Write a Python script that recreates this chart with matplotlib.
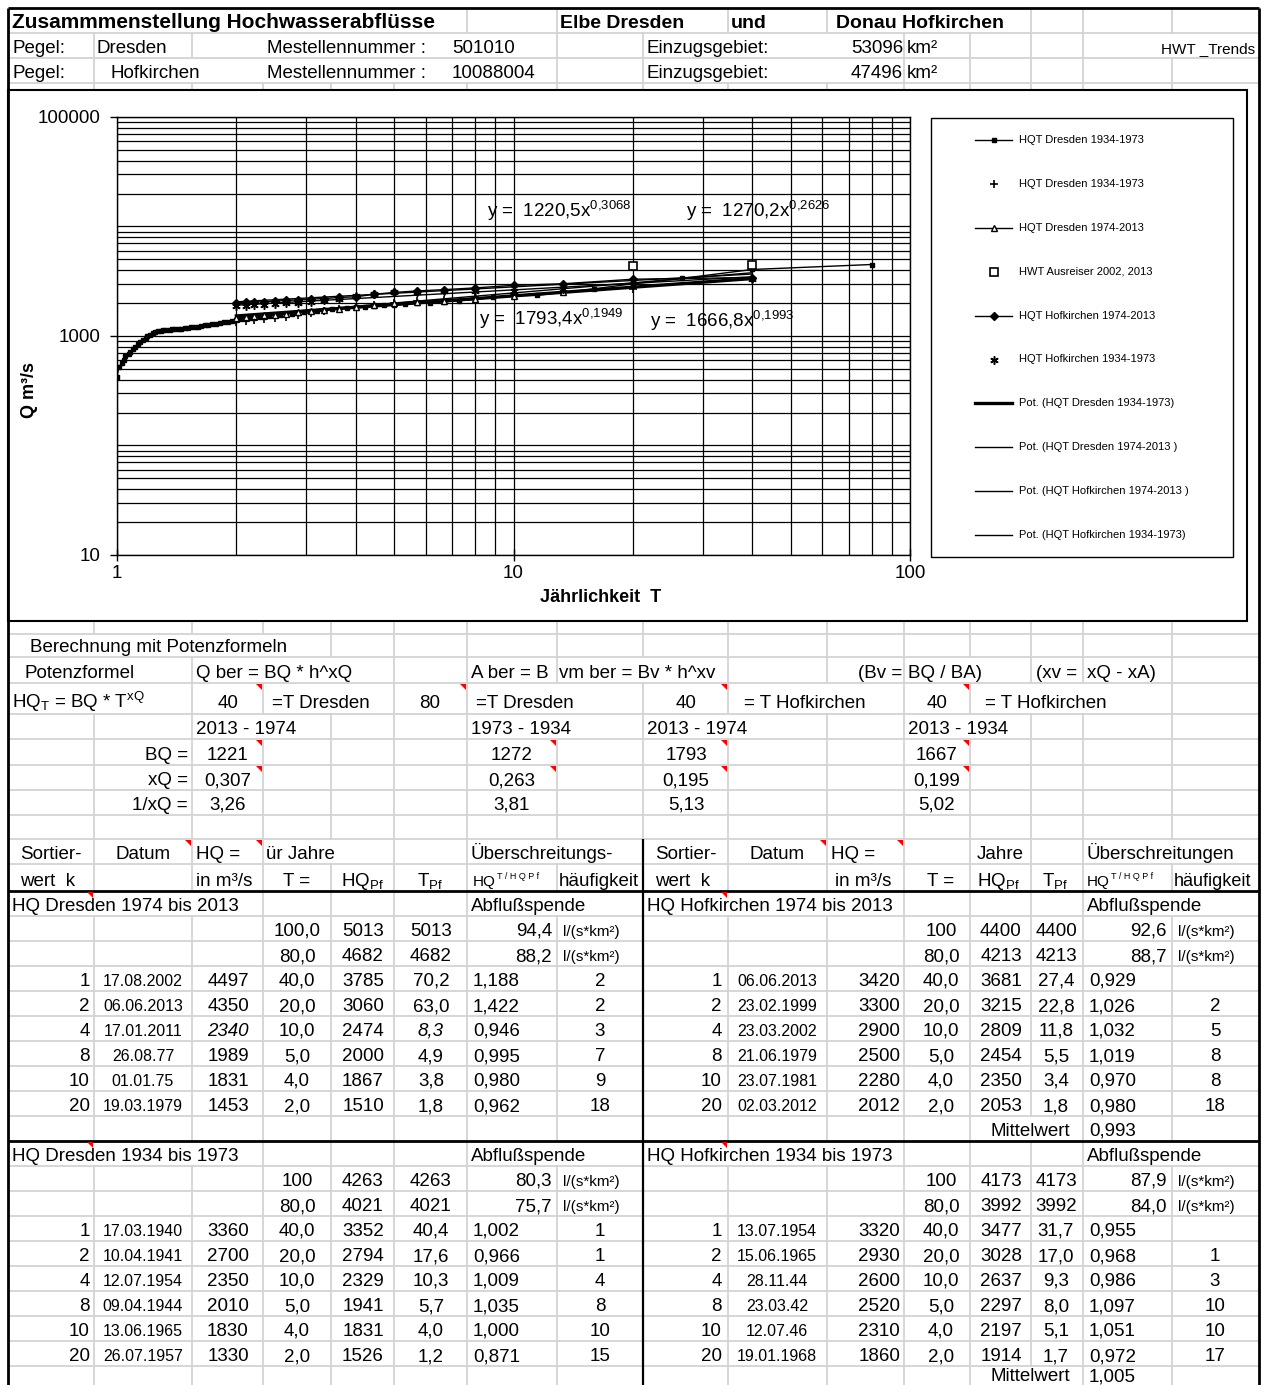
import numpy as np
import matplotlib
matplotlib.use('Agg')
import matplotlib.pyplot as plt
from matplotlib.patches import Rectangle, Polygon
from matplotlib.ticker import LogLocator, NullFormatter

plt.rcParams['font.family'] = ['Liberation Sans', 'DejaVu Sans']
plt.rcParams['mathtext.default'] = 'regular'

# ---------------- chart data ----------------
# HQT Dresden (dots, long series, T = 80/k)
dres80_T = [80, 40, 26.67, 20, 16, 13.33, 11.43, 10, 8.89, 8,
            7.27, 6.67, 6.15, 5.71, 5.33, 5, 4.71, 4.44, 4.21, 4,
            3.81, 3.64, 3.48, 3.33, 3.2, 3.08, 2.96, 2.86, 2.76, 2.67,
            2.58, 2.5, 2.42, 2.35, 2.29, 2.22, 2.16, 2.11, 2.05, 2.0,
            1.95, 1.9, 1.86, 1.82, 1.78, 1.74, 1.7, 1.67, 1.63, 1.6,
            1.57, 1.54, 1.51, 1.48, 1.45, 1.43, 1.4, 1.38, 1.36, 1.33,
            1.31, 1.29, 1.27, 1.25, 1.23, 1.21, 1.19, 1.18, 1.16, 1.14,
            1.13, 1.11, 1.1, 1.08, 1.07, 1.05, 1.04, 1.03, 1.01, 1.0]
dres80_Q = [4497, 4050, 3360, 3000, 2700, 2500, 2350, 2340, 2250, 2150,
            2100, 2050, 2010, 1989, 1950, 1920, 1900, 1880, 1850, 1831,
            1800, 1780, 1750, 1720, 1700, 1680, 1650, 1620, 1600, 1580,
            1560, 1540, 1520, 1500, 1480, 1460, 1453, 1440, 1420, 1400,
            1370, 1350, 1330, 1320, 1300, 1280, 1260, 1250, 1230, 1220,
            1210, 1200, 1190, 1180, 1170, 1160, 1150, 1150, 1140, 1140,
            1130, 1120, 1110, 1090, 1060, 1030, 1000, 960, 920, 880,
            840, 800, 760, 720, 690, 650, 610, 570, 520, 420]

# 40-year series, T = 40/k
T40 = [40, 20, 13.33, 10, 8, 6.67, 5.71, 5, 4.44, 4,
       3.64, 3.33, 3.08, 2.86, 2.67, 2.5, 2.35, 2.22, 2.11, 2.0]
dres34_Q = [3360, 2700, 2500, 2350, 2250, 2150, 2080, 2010, 1900, 1830,
            1750, 1680, 1620, 1560, 1500, 1450, 1420, 1390, 1360, 1330]
dres74_T = [13.33, 10, 8, 6.67, 5.71, 5, 4.44, 4,
            3.64, 3.33, 3.08, 2.86, 2.67, 2.5, 2.35, 2.22, 2.11, 2.0]
dres74_Q = [2500, 2340, 2200, 2100, 2050, 1989, 1900, 1831,
            1780, 1720, 1680, 1640, 1600, 1570, 1540, 1510, 1480, 1453]
outlier_T = [40, 20]
outlier_Q = [4497, 4350]
hof74_Q = [3420, 3300, 3000, 2900, 2750, 2650, 2580, 2500, 2400, 2280,
           2250, 2200, 2170, 2140, 2110, 2080, 2060, 2040, 2025, 2012]
hof34_Q = [3320, 2930, 2700, 2600, 2580, 2560, 2540, 2520, 2400, 2310,
           2200, 2120, 2060, 2020, 1990, 1960, 1930, 1900, 1880, 1860]

# power trend lines  y = a * x^b
trend_a = [1270.2, 1220.5, 1793.4, 1666.8]
trend_b = [0.2626, 0.3068, 0.1949, 0.1993]
trend_T = [2, 40]
trend_lw = [2.4, 1.0, 1.0, 1.0]

legend_labels = ['HQT Dresden 1934-1973', 'HQT Dresden 1934-1973',
                 'HQT Dresden 1974-2013', 'HWT Ausreiser 2002, 2013',
                 'HQT Hofkirchen 1974-2013', 'HQT Hofkirchen 1934-1973',
                 'Pot. (HQT Dresden 1934-1973)', 'Pot. (HQT Dresden 1974-2013 )',
                 'Pot. (HQT Hofkirchen 1974-2013 )', 'Pot. (HQT Hofkirchen 1934-1973)']

# ---------------- table text ----------------
dres74_rows = [
    ["", "", "", "100,0", "5013", "5013", "94,4", "l/(s*km²)"],
    ["", "", "", "80,0", "4682", "4682", "88,2", "l/(s*km²)"],
    ["1", "17.08.2002", "4497", "40,0", "3785", "70,2", "1,188", "2"],
    ["2", "06.06.2013", "4350", "20,0", "3060", "63,0", "1,422", "2"],
    ["4", "17.01.2011", "2340", "10,0", "2474", "8,3", "0,946", "3"],
    ["8", "26.08.77", "1989", "5,0", "2000", "4,9", "0,995", "7"],
    ["10", "01.01.75", "1831", "4,0", "1867", "3,8", "0,980", "9"],
    ["20", "19.03.1979", "1453", "2,0", "1510", "1,8", "0,962", "18"],
]
hof74_rows = [
    ["", "", "", "100", "4400", "4400", "92,6", "l/(s*km²)"],
    ["", "", "", "80,0", "4213", "4213", "88,7", "l/(s*km²)"],
    ["1", "06.06.2013", "3420", "40,0", "3681", "27,4", "0,929", ""],
    ["2", "23.02.1999", "3300", "20,0", "3215", "22,8", "1,026", "2"],
    ["4", "23.03.2002", "2900", "10,0", "2809", "11,8", "1,032", "5"],
    ["8", "21.06.1979", "2500", "5,0", "2454", "5,5", "1,019", "8"],
    ["10", "23.07.1981", "2280", "4,0", "2350", "3,4", "0,970", "8"],
    ["20", "02.03.2012", "2012", "2,0", "2053", "1,8", "0,980", "18"],
]
dres34_rows = [
    ["", "", "", "100", "4263", "4263", "80,3", "l/(s*km²)"],
    ["", "", "", "80,0", "4021", "4021", "75,7", "l/(s*km²)"],
    ["1", "17.03.1940", "3360", "40,0", "3352", "40,4", "1,002", "1"],
    ["2", "10.04.1941", "2700", "20,0", "2794", "17,6", "0,966", "1"],
    ["4", "12.07.1954", "2350", "10,0", "2329", "10,3", "1,009", "4"],
    ["8", "09.04.1944", "2010", "5,0", "1941", "5,7", "1,035", "8"],
    ["10", "13.06.1965", "1830", "4,0", "1831", "4,0", "1,000", "10"],
    ["20", "26.07.1957", "1330", "2,0", "1526", "1,2", "0,871", "15"],
]
hof34_rows = [
    ["", "", "", "100", "4173", "4173", "87,9", "l/(s*km²)"],
    ["", "", "", "80,0", "3992", "3992", "84,0", "l/(s*km²)"],
    ["1", "13.07.1954", "3320", "40,0", "3477", "31,7", "0,955", ""],
    ["2", "15.06.1965", "2930", "20,0", "3028", "17,0", "0,968", "1"],
    ["4", "28.11.44", "2600", "10,0", "2637", "9,3", "0,986", "3"],
    ["8", "23.03.42", "2520", "5,0", "2297", "8,0", "1,097", "10"],
    ["10", "12.07.46", "2310", "4,0", "2197", "5,1", "1,051", "10"],
    ["20", "19.01.1968", "1860", "2,0", "1914", "1,7", "0,972", "17"],
]

# ---------------- page layout (pixels) ----------------
W, H = 1263, 1385
fig = plt.figure(figsize=(W / 100, H / 100), dpi=100)
base = fig.add_axes([0, 0, 1, 1])
base.set_xlim(0, W)
base.set_ylim(H, 0)
base.axis('off')

cols = [8, 94, 192, 263, 331, 394, 467, 557, 643, 728, 827, 904, 970, 1031, 1083, 1172, 1259]
head_rows = [8, 33, 58, 83, 90]
tab_rows = [621, 634, 657, 683, 714, 739, 765, 790, 815, 839, 864, 891] + \
           [916 + 25 * i for i in range(20)]
hidden = {
    8: [94, 192, 263, 331, 394, 643, 904, 970],
    33: [263, 331, 394, 467, 728, 827, 1172],
    58: [192, 263, 331, 394, 467, 728, 827],
    634: [94, 192, 263],
    657: [94, 263, 331, 643, 970],
    683: [94, 331, 557, 827, 1031, 1083],
    714: [263, 557, 728, 970],
    839: [331, 557, 1172],
    891: [94, 192, 557, 728, 827, 1172],
    1116: [1031],
    1141: [94, 192, 557, 728, 827, 1172],
    1366: [1031],
}
grey = '#d3d3d3'

for rows in (head_rows, tab_rows):
    for top, bot in zip(rows[:-1], rows[1:]):
        for x in cols[1:-1]:
            if x in hidden.get(top, []):
                continue
            base.plot([x, x], [top, min(bot, H)], color=grey, lw=1.3, zorder=1)
    for y in rows[1:-1]:
        if y in (891, 1141):
            continue
        base.plot([8, 1259], [y, y], color=grey, lw=1.3, zorder=1)

# black borders
for (x0, x1, y0, y1, lw) in [(8, 1259, 8, 8, 2), (8, 8, 8, H, 2), (1259, 1259, 8, H, 2),
                             (8, 1259, 891, 891, 2), (8, 1259, 1141, 1141, 2),
                             (643, 643, 839, H, 1.6)]:
    base.plot([x0, x1], [y0, y1], color='black', lw=lw, zorder=3, solid_capstyle='butt')
base.add_patch(Rectangle((8, 90), 1239, 531, fill=False, ec='black', lw=1.5, zorder=3))

FS = 13.5


def put(x, y, s, ha='left', size=FS, **kw):
    base.text(x, y, s, ha=ha, va='baseline', fontsize=size, zorder=5, **kw)


def rb(top):
    # baseline of a row that starts at top
    nxt = [r for r in head_rows + tab_rows if r > top]
    return min(nxt) - 5


# header
put(12, rb(8), 'Zusammmenstellung Hochwasserabflüsse', size=15, weight='bold')
put(560, rb(8), 'Elbe Dresden', size=14, weight='bold')
put(731, rb(8), 'und', size=14, weight='bold')
put(836, rb(8), 'Donau Hofkirchen', size=14, weight='bold')
for top, name, num, area in [(33, 'Dresden', '501010', '53096'), (58, 'Hofkirchen', '10088004', '47496')]:
    put(12, rb(top), 'Pegel:')
    put(97 if top == 33 else 110, rb(top), name)
    put(267, rb(top), 'Mestellennummer :')
    put(452, rb(top), num)
    put(647, rb(top), 'Einzugsgebiet:')
    put(903, rb(top), area, ha='right')
    put(907, rb(top), 'km²')
put(1255, rb(33), 'HWT _Trends', ha='right', size=11)

# formula block
put(30, rb(634), 'Berechnung mit Potenzformeln')
put(24, rb(657), 'Potenzformel')
put(196, rb(657), 'Q ber = BQ * h^xQ')
put(471, rb(657), 'A ber = B')
put(559, rb(657), 'vm ber = Bv * h^xv')
put(902, rb(657), '(Bv =', ha='right')
put(908, rb(657), 'BQ / BA)')
put(1036, rb(657), '(xv =')
put(1087, rb(657), 'xQ - xA)')

put(12, rb(683) - 1, r'HQ$_T$ = BQ * T$^{xQ}$')
put(228, rb(683) - 1, '40', ha='center')
put(272, rb(683) - 1, '=T Dresden')
put(430, rb(683) - 1, '80', ha='center')
put(476, rb(683) - 1, '=T Dresden')
put(686, rb(683) - 1, '40', ha='center')
put(744, rb(683) - 1, '= T Hofkirchen')
put(937, rb(683) - 1, '40', ha='center')
put(985, rb(683) - 1, '= T Hofkirchen')

put(196, rb(714), '2013 - 1974')
put(471, rb(714), '1973 - 1934')
put(647, rb(714), '2013 - 1974')
put(908, rb(714), '2013 - 1934')

param_rows = [('BQ =', '1221', '1272', '1793', '1667'),
              ('xQ =', '0,307', '0,263', '0,195', '0,199'),
              ('1/xQ =', '3,26', '3,81', '5,13', '5,02')]
for top, vals in zip([739, 765, 790], param_rows):
    put(188, rb(top), vals[0], ha='right')
    for x, v in zip([228, 512, 686, 937], vals[1:]):
        put(x, rb(top), v, ha='center')

# column headings
put(20, rb(839), 'Sortier-')
put(143, rb(839), 'Datum', ha='center')
put(196, rb(839), 'HQ =')
put(266, rb(839), 'ür Jahre')
put(471, rb(839), 'Überschreitungs-')
put(655, rb(839), 'Sortier-')
put(777, rb(839), 'Datum', ha='center')
put(831, rb(839), 'HQ =')
put(1000, rb(839), 'Jahre', ha='center')
put(1087, rb(839), 'Überschreitungen')

y_h = rb(864)
put(20, y_h, 'wert  k')
put(196, y_h, 'in m³/s')
put(297, y_h, 'T =', ha='center')
put(362, y_h, r'HQ$_{Pf}$', ha='center')
put(430, y_h, r'T$_{Pf}$', ha='center')
put(473, y_h, 'HQ', size=11)
put(497, y_h - 7, 'T / H Q P f', size=6.5)
put(559, y_h, 'häufigkeit')
put(655, y_h, 'wert  k')
put(835, y_h, 'in m³/s')
put(941, y_h, 'T =', ha='center')
put(998, y_h, r'HQ$_{Pf}$', ha='center')
put(1055, y_h, r'T$_{Pf}$', ha='center')
put(1087, y_h, 'HQ', size=11)
put(1111, y_h - 7, 'T / H Q P f', size=6.5)
put(1174, y_h, 'häufigkeit', size=13)

put(12, rb(891), 'HQ Dresden 1974 bis 2013')
put(471, rb(891), 'Abflußspende')
put(647, rb(891), 'HQ Hofkirchen 1974 bis 2013')
put(1087, rb(891), 'Abflußspende')
put(12, rb(1141), 'HQ Dresden 1934 bis 1973')
put(471, rb(1141), 'Abflußspende')
put(647, rb(1141), 'HQ Hofkirchen 1934 bis 1973')
put(1087, rb(1141), 'Abflußspende')
put(1030, rb(1116), 'Mittelwert', ha='center')
put(1089, rb(1116), '0,993')
put(1030, 1381, 'Mittelwert', ha='center')
put(1089, 1381, '1,005')

left_spec = [(90, 'right'), (143, 'center'), (228, 'center'), (297, 'center'),
             (363, 'center'), (431, 'center'), (473, 'left'), (600, 'center')]
right_spec = [(722, 'right'), (777, 'center'), (900, 'right'), (941, 'center'),
              (1001, 'center'), (1056, 'center'), (1089, 'left'), (1215, 'center')]


def table_block(rows, first_top, spec, unit_x, ratio_x, italic_row=None):
    for i, row in enumerate(rows):
        y = first_top + 25 * i + 20
        unit = row[7].startswith('l/')
        for j, (val, (x, ha)) in enumerate(zip(row, spec)):
            if not val:
                continue
            size = 11.5 if j == 1 else FS
            style = 'italic' if (italic_row == i and j in (2, 5)) else 'normal'
            if unit and j == 6:
                x, ha = ratio_x, 'right'
            if unit and j == 7:
                x, ha, size = unit_x, 'left', 11
            put(x, y, val, ha=ha, size=size, style=style)


table_block(dres74_rows, 916, left_spec, 563, 552, italic_row=4)
table_block(hof74_rows, 916, right_spec, 1178, 1167)
table_block(dres34_rows, 1166, left_spec, 563, 552)
table_block(hof34_rows, 1166, right_spec, 1178, 1167)

# red comment markers
for (x, y) in [(263, 683), (467, 683), (728, 683), (970, 683),
               (263, 739), (263, 765), (557, 739), (557, 765),
               (728, 739), (728, 765), (970, 739), (970, 765),
               (192, 839), (263, 839), (827, 839), (904, 839),
               (94, 891), (728, 891), (94, 1141), (728, 1141)]:
    base.add_patch(Polygon([(x - 7, y + 1), (x - 1, y + 1), (x - 1, y + 7)],
                           closed=True, color='red', lw=0, zorder=6))

# ---------------- chart ----------------
ax = fig.add_axes([117 / W, 1 - 555 / H, 793 / W, 438 / H])
ax.set_facecolor('none')
ax.set_xscale('log')
ax.set_yscale('log')

ax.plot(dres80_T, dres80_Q, color='black', lw=1, marker='s', ms=2.2, zorder=4)
ax.plot(T40, dres34_Q, ls='none', color='black', marker='+', ms=6, mew=1.2, zorder=4)
ax.plot(dres74_T, dres74_Q, color='black', lw=1, marker='^', ms=5, mfc='white', mew=1, zorder=4)
ax.plot(outlier_T, outlier_Q, ls='none', color='black', marker='s', ms=6, mfc='white', mew=1.2, zorder=5)
ax.plot(T40, hof74_Q, color='black', lw=1, marker='D', ms=4, zorder=4)
ax.plot(T40, hof34_Q, ls='none', color='black', marker=(6, 2, 0), ms=6, mew=1.1, zorder=4)
for a, b, lw in zip(trend_a, trend_b, trend_lw):
    tt = np.array(trend_T, dtype=float)
    ax.plot(tt, a * tt ** b, color='black', lw=lw, zorder=3)

ax.set_xlim(1, 100)
ax.set_ylim(10, 100000)
ax.set_xticks([1, 10, 100])
ax.set_xticklabels(['1', '10', '100'])
ax.set_yticks([10, 1000, 100000])
ax.set_yticklabels(['10', '1000', '100000'])
ax.xaxis.set_minor_locator(LogLocator(base=10, subs=np.arange(2, 10), numticks=50))
ax.yaxis.set_minor_locator(LogLocator(base=10, subs=np.arange(1, 10), numticks=50))
ax.xaxis.set_minor_formatter(NullFormatter())
ax.yaxis.set_minor_formatter(NullFormatter())
ax.set_axisbelow(True)
ax.grid(which='both', color='black', lw=0.9)
ax.tick_params(which='minor', length=0)
ax.tick_params(axis='x', which='major', direction='inout', length=8, width=1,
               labelsize=FS, pad=3)
ax.tick_params(axis='y', which='major', direction='out', length=5, width=1,
               labelsize=FS, pad=7)
for sp in ax.spines.values():
    sp.set_color('black')
    sp.set_linewidth(1)

base.text(30, 390, 'Q m³/s', rotation=90, ha='center', va='center',
          fontsize=13, weight='bold')
base.text(601, 597, 'Jährlichkeit  T', ha='center', va='center',
          fontsize=13, weight='bold')

for x, y, s in [(487, 217, r'y =  1220,5x$^{0{,}3068}$'),
                (686, 217, r'y =  1270,2x$^{0{,}2626}$'),
                (479, 325, r'y =  1793,4x$^{0{,}1949}$'),
                (650, 327, r'y =  1666,8x$^{0{,}1993}$')]:
    ax.text(x, y, s, transform=base.transData, ha='left', va='baseline',
            fontsize=13.5, zorder=6)

# legend box
base.add_patch(Rectangle((931, 118), 302, 439, fill=False, ec='black', lw=1, zorder=3))
leg_style = [
    dict(ls='-', lw=1, marker='s', ms=2.2),
    dict(ls='none', marker='+', ms=6, mew=1.2),
    dict(ls='-', lw=1, marker='^', ms=5, mfc='white'),
    dict(ls='none', marker='s', ms=6, mfc='white', mew=1.2),
    dict(ls='-', lw=1, marker='D', ms=4),
    dict(ls='none', marker=(6, 2, 0), ms=6, mew=1.1),
    dict(ls='-', lw=2.4),
    dict(ls='-', lw=1),
    dict(ls='-', lw=1),
    dict(ls='-', lw=1),
]
mkeys = ('marker', 'ms', 'mfc', 'mew')
for i, (lab, st) in enumerate(zip(legend_labels, leg_style)):
    y = 140 + 43.9 * i
    if st.get('ls') == 'none':
        base.plot([993.5], [y], color='black', zorder=4, **st)
    else:
        base.plot([975, 1012], [y, y], color='black', zorder=4,
                  **{k: v for k, v in st.items() if k not in mkeys})
        if 'marker' in st:
            base.plot([993.5], [y], color='black', zorder=5, ls='none',
                      **{k: v for k, v in st.items() if k in mkeys})
    base.text(1019, y, lab, ha='left', va='center', fontsize=8, zorder=5)

fig.savefig('out.png', dpi=100)
